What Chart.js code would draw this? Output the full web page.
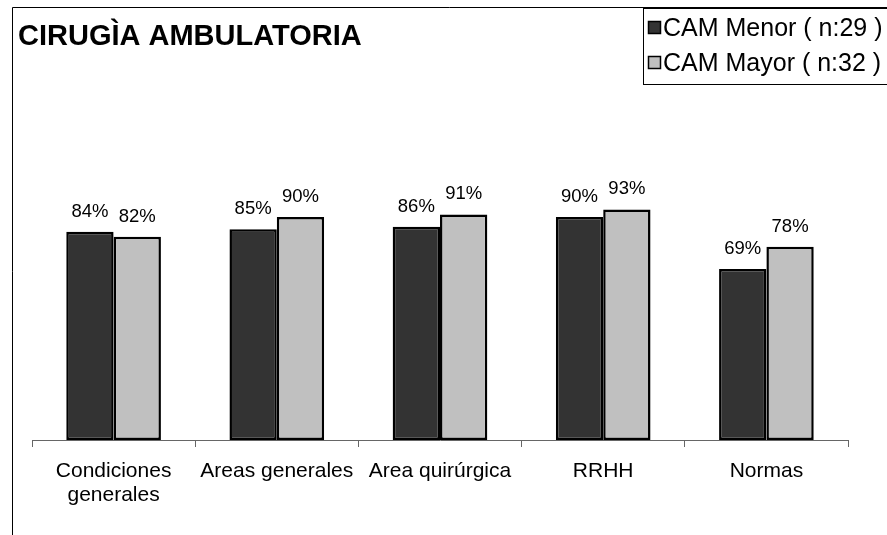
<!DOCTYPE html>
<html>
<head>
<meta charset="utf-8">
<title>Cirugia ambulatoria</title>
<script src="https://cdn.jsdelivr.net/npm/chart.js@4/dist/chart.umd.min.js"></script>
<style>
  html, body { margin: 0; padding: 0; background: #fff; }
  #chart { display: block; }
</style>
</head>
<body>
<canvas id="chart" width="887" height="535"></canvas>
<script>
const chartTitle = "CIRUGÌA AMBULATORIA";
const categories = [["Condiciones", "generales"], "Areas generales", "Area quirúrgica", "RRHH", "Normas"];
const seriesNames = ["CAM Menor ( n:29 )", "CAM Mayor ( n:32 )"];
const camMenor = [84, 85, 86, 90, 69];
const camMayor = [82, 90, 91, 93, 78];
const seriesColors = ["#333333", "#c0c0c0"];

const fontFamily = "Arial, 'Liberation Sans', sans-serif";

document.addEventListener("DOMContentLoaded", () => {
  const ctx = document.getElementById("chart").getContext("2d");

  // outer frame, title and boxed legend like the excel picture
  const decorations = {
    id: "decorations",
    afterDraw(chart) {
      const c = chart.ctx;
      c.save();
      c.strokeStyle = "#000";
      c.lineWidth = 1;
      c.beginPath();
      c.moveTo(12.5, 535);
      c.lineTo(12.5, 7.5);
      c.lineTo(887, 7.5);
      c.stroke();

      c.fillStyle = "#000";
      c.font = "bold 29px " + fontFamily;
      c.textBaseline = "alphabetic";
      c.fillText(chartTitle, 18, 45);

      c.fillStyle = "#fff";
      c.fillRect(643, 8, 250, 76);
      c.strokeStyle = "#000";
      c.strokeRect(643.5, 8.5, 260, 76);
      c.font = "25px " + fontFamily;
      chart.data.datasets.forEach((ds, i) => {
        const y = 21 + i * 35;
        c.fillStyle = ds.backgroundColor;
        c.fillRect(648, y, 13, 13);
        c.strokeStyle = "#000";
        c.lineWidth = 1.5;
        c.strokeRect(648.5, y + 0.5, 12, 12);
        c.fillStyle = "#000";
        c.fillText(ds.label, 663, y + 15);
      });
      c.restore();
    }
  };

  // percent labels above each bar
  const valueLabels = {
    id: "valueLabels",
    afterDatasetsDraw(chart) {
      const c = chart.ctx;
      c.save();
      c.font = "18.5px " + fontFamily;
      c.fillStyle = "#000";
      c.textAlign = "center";
      c.textBaseline = "alphabetic";
      chart.data.datasets.forEach((ds, i) => {
        chart.getDatasetMeta(i).data.forEach((bar, j) => {
          c.fillText(ds.data[j] + "%", bar.x, bar.y - 15);
        });
      });
      c.restore();
    }
  };

  new Chart(ctx, {
    type: "bar",
    data: {
      labels: categories,
      datasets: [
        {
          label: seriesNames[0],
          data: camMenor,
          backgroundColor: seriesColors[0],
          borderColor: "#000",
          borderWidth: 2.5,
          borderSkipped: false
        },
        {
          label: seriesNames[1],
          data: camMayor,
          backgroundColor: seriesColors[1],
          borderColor: "#000",
          borderWidth: 2.5,
          borderSkipped: false
        }
      ]
    },
    options: {
      responsive: false,
      animation: false,
      layout: { padding: { left: 32, right: 39, top: 93, bottom: 0 } },
      datasets: { bar: { categoryPercentage: 0.58, barPercentage: 1 } },
      plugins: {
        legend: { display: false },
        tooltip: { enabled: false }
      },
      scales: {
        x: {
          grid: { display: true, drawOnChartArea: false, drawTicks: true, tickLength: 7, color: "#666666" },
          border: { display: true, color: "#666666" },
          ticks: {
            color: "#000",
            font: { family: fontFamily, size: 21, lineHeight: 1.15 },
            padding: 12,
            maxRotation: 0,
            autoSkip: false
          },
          afterFit(scale) {
            scale.height = 95;
          }
        },
        y: {
          display: false,
          min: 0,
          max: 140
        }
      }
    },
    plugins: [valueLabels, decorations]
  });
});
</script>
</body>
</html>
